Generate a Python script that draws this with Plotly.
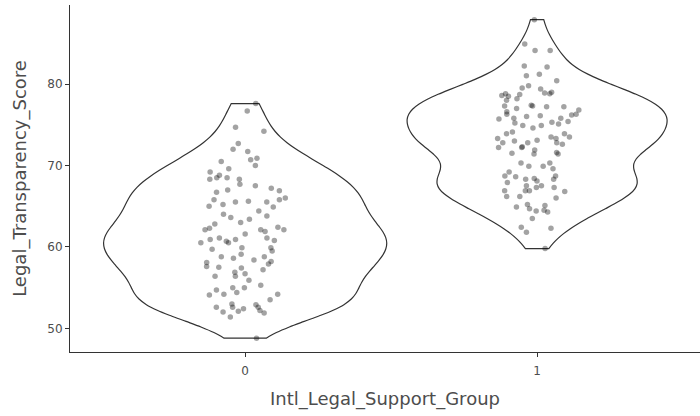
import plotly.graph_objects as go
import numpy as np

# category labels
groups = ["0", "1"]

# Legal_Transparency_Score
scores_0 = [
    77.6, 76.7, 74.2, 74.7, 72.7, 72.0, 71.7, 70.5, 70.9, 70.7, 70.0, 69.2, 69.6,
    68.5, 68.5, 68.8, 68.3, 68.3, 67.7, 67.2, 66.9, 67.5, 67.0, 66.7, 65.6, 65.5,
    65.8, 65.0, 64.9, 65.2, 65.5, 65.8, 66.0, 64.4, 63.8, 63.4, 64.0, 63.6, 62.8,
    62.4, 62.1, 63.0, 62.3, 61.9, 62.1, 62.1, 61.6, 61.1, 60.5, 61.1, 60.8, 60.7,
    60.9, 60.9, 60.5, 59.9, 59.7, 59.9, 59.5, 59.1, 58.8, 58.8, 58.6, 58.4, 58.2,
    58.1, 57.9, 57.6, 57.4, 56.9, 57.2, 57.5, 56.4, 56.4, 56.7, 55.9, 55.3, 55.0,
    54.4, 55.0, 54.2, 54.2, 54.7, 54.1, 53.5, 53.0, 52.6, 52.9, 52.4, 52.6, 52.6,
    52.1, 52.0, 52.2, 51.9, 51.4, 48.8,
]
scores_1 = [
    87.9, 84.9, 84.1, 84.1, 82.2, 82.1, 81.0, 81.2, 80.4, 79.8, 79.4, 79.5, 79.0,
    78.8, 78.9, 78.8, 78.6, 78.7, 78.5, 78.2, 78.0, 77.4, 77.2, 76.8, 77.0, 77.3,
    77.3, 77.2, 76.1, 75.8, 75.7, 76.3, 76.3, 76.6, 76.2, 75.8, 76.0, 75.1, 75.3,
    74.9, 75.2, 74.9, 75.4, 74.6, 74.1, 73.9, 73.9, 73.5, 73.3, 73.5, 73.1, 72.6,
    72.8, 72.8, 73.0, 72.8, 73.3, 72.2, 72.2, 72.3, 71.9, 71.6, 71.5, 71.4, 71.4,
    70.3, 69.9, 69.2, 70.3, 69.9, 69.6, 68.7, 68.7, 68.6, 68.3, 68.3, 68.1, 68.4,
    67.5, 66.9, 66.9, 67.3, 66.9, 66.0, 67.3, 66.8, 67.5, 67.9, 66.2, 66.2, 65.2,
    64.9, 65.1, 64.7, 64.3, 63.5, 64.4, 64.5, 62.4, 62.3, 61.8, 59.8,
]


def nrd0(values, adjust=1.0):
    # R's default bandwidth (bw.nrd0), times an adjust factor
    v = np.asarray(values)
    iqr = np.percentile(v, 75) - np.percentile(v, 25)
    return adjust * 0.9 * min(v.std(ddof=1), iqr / 1.34) * len(v) ** -0.2


fig = go.Figure()

for label, vals, w in [(groups[0], scores_0, 0.97), (groups[1], scores_1, 0.89)]:
    fig.add_trace(go.Violin(
        x=[label] * len(vals),
        y=vals,
        bandwidth=nrd0(vals, 0.9),
        spanmode="hard",
        width=w,
        fillcolor="rgba(255,255,255,0)",
        line=dict(color="#333333", width=1.2),
        points="all",
        pointpos=0,
        jitter=0.34,
        marker=dict(color="rgba(0,0,0,0.36)", size=5.5, line=dict(width=0)),
        box_visible=False,
        meanline_visible=False,
        showlegend=False,
        hoveron="points",
    ))

fig.update_layout(
    width=700,
    height=416,
    margin=dict(l=70, r=0, t=5, b=64),
    plot_bgcolor="white",
    paper_bgcolor="white",
    font=dict(family="DejaVu Sans", color="#4d4d4d"),
    xaxis=dict(
        type="category",
        range=[-0.6, 1.558],
        automargin=False,
        showgrid=False,
        zeroline=False,
        showline=True,
        linecolor="#333333",
        linewidth=1,
        ticks="outside",
        ticklen=4,
        tickcolor="#333333",
        ticklabelstandoff=4,
        tickfont=dict(size=12, color="#4d4d4d"),
        title=dict(text="Intl_Legal_Support_Group", font=dict(size=18, color="#4d4d4d"), standoff=14),
    ),
    yaxis=dict(
        range=[47.1, 89.7],
        tickvals=[50, 60, 70, 80],
        automargin=False,
        showgrid=False,
        zeroline=False,
        showline=True,
        linecolor="#333333",
        linewidth=1,
        ticks="outside",
        ticklen=4,
        tickcolor="#333333",
        tickfont=dict(size=12, color="#4d4d4d"),
        title=dict(text="Legal_Transparency_Score", font=dict(size=18, color="#4d4d4d"), standoff=16),
    ),
)

# the page body has a default 8px margin; drop it so the chart sits at 0,0
fig.write_html(
    "out.html",
    config={"displayModeBar": False},
    post_script="document.body.style.margin='0';",
)
